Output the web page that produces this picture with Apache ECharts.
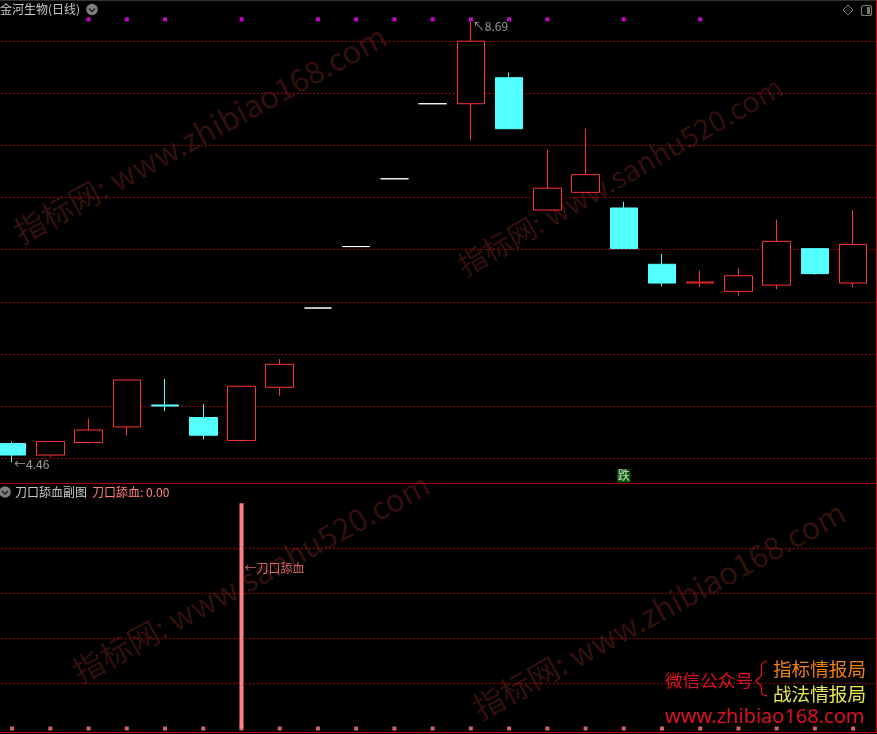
<!DOCTYPE html>
<html><head><meta charset="utf-8">
<style>html,body{margin:0;padding:0;background:#000;overflow:hidden}#c{width:877px;height:734px}</style>
<script src="https://cdn.jsdelivr.net/npm/echarts@6/dist/echarts.min.js"></script>
</head><body><div id="c"></div>
<script>
const categories = ['D01','D02','D03','D04','D05','D06','D07','D08','D09','D10','D11','D12','D13','D14','D15','D16','D17','D18','D19','D20','D21','D22','D23',''];
const openPrice  = [4.64,4.53,4.65,4.80,5.01,4.89,4.67,5.18,5.94,6.53,7.18,7.90,7.90,8.15,6.88,7.05,6.90,6.36,6.18,6.10,6.16,6.51,6.18];
const closePrice = [4.53,4.66,4.77,5.25,5.00,4.72,5.19,5.40,5.94,6.53,7.18,7.90,8.50,7.66,7.09,7.22,6.51,6.18,6.19,6.25,6.58,6.27,6.55];
const lowPrice   = [4.46,4.51,4.64,4.72,4.95,4.68,4.66,5.10,5.94,6.53,7.18,7.90,7.55,7.66,6.88,7.05,6.51,6.15,6.14,6.06,6.12,6.26,6.14];
const highPrice  = [4.66,4.66,4.88,5.25,5.26,5.02,5.19,5.45,5.94,6.53,7.18,7.90,8.69,8.20,7.46,7.66,6.96,6.46,6.30,6.32,6.79,6.51,6.88];
const signalIndex = [2,3,4,6,8,9,10,11,12,13,14,16,18];
const signalLevel = 8.71;
const fallIndex = 16, fallLevel = 4.33;
const subValues = [0,0,0,0,0,0,100,0,0,0,0,0,0,0,0,0,0,0,0,0,0,0,0];
const subLabelValue = 71;
const stockTitle = '金河生物(日线)';
const subTitle = '刀口舔血副图';
const subLegend = '刀口舔血: 0.00';
const subSignalName = '刀口舔血';
const watermarks = [
  ['指标网: www.zhibiao168.com', 200, 134, 0.50, 31],
  ['指标网: www.sanhu520.com', 620, 176, 0.52, 28.5],
  ['指标网: www.sanhu520.com', 251, 578, 0.50, 31],
  ['指标网: www.zhibiao168.com', 659, 610, 0.50, 31]
];

const RED = '#ff3333', CYAN = '#54ffff', PINK = '#ff8080', GRIDC = '#cc0000', GREY = '#c8c8c8';
const candles = openPrice.map((_, i) => [openPrice[i], closePrice[i], lowPrice[i], highPrice[i]]);
const iLow = lowPrice.indexOf(Math.min(...lowPrice));
const iHigh = highPrice.indexOf(Math.max(...highPrice));
const dottedSplit = {show:true, showMinLine:false, showMaxLine:false, lineStyle:{color: GRIDC, width: 1, type: [1.5, 2.5]}};
const chevron = (cx, cy) => ([
  {type:'circle', shape:{cx, cy, r:5.8}, style:{fill:'#7f7f7f'}, z:6},
  {type:'polyline', shape:{points:[[cx-3,cy-1],[cx,cy+2],[cx+3,cy-1]]}, style:{stroke:'#1c1c1c', lineWidth:1.4, fill:null}, z:7}
]);
const txt = (text, x, y, fontSize, fill, extra) => ({
  type:'text', x, y, z:6,
  style:Object.assign({text, fontSize, fill, fontFamily:'"Noto Sans CJK SC"', textVerticalAlign:'middle', textAlign:'left'}, extra||{})
});
const hline = (x1,y,x2,stroke) => ({type:'line', shape:{x1,y1:y,x2,y2:y}, style:{stroke, lineWidth:1}, z:6});

const graphics = [
  ...watermarks.map(w => ({type:'text', x:w[1], y:w[2], rotation:w[3], z:0, silent:true,
    style:{text:w[0], fontSize:w[4], fill:'#34100c', fontFamily:'"Noto Sans CJK SC"', textAlign:'center', textVerticalAlign:'middle'}})),
  hline(0,0.5,877,'#333333'),
  hline(0,483.5,877,'#b00000'),
  hline(0,732.5,877,'#d00000'),
  {type:'line', shape:{x1:876.5,y1:0,x2:876.5,y2:733}, style:{stroke:'#d00000',lineWidth:1}, z:6},
  txt(stockTitle, 0, 9.5, 12, GREY),
  ...chevron(92, 9.5),
  ...chevron(5, 492),
  txt(subTitle, 15, 492, 12, GREY),
  txt(subLegend, 92, 492, 12, PINK),
  {type:'polygon', shape:{points:[[848,5],[853,10],[848,15],[843,10]]}, style:{stroke:'#7a7a7a',fill:null,lineWidth:1}, z:6},
  {type:'rect', shape:{x:861.5,y:5.5,width:10,height:10,r:2}, style:{stroke:'#7a7a7a',fill:null,lineWidth:1.2}, z:6},
  {type:'rect', shape:{x:867,y:7,width:3,height:7}, style:{fill:'#7a7a7a'}, z:6},
  txt('微信公众号', 665, 680, 17.6, '#e01020'),
  {type:'polyline', shape:{points:[[767,661],[762,664],[761,676],[756,681],[761,686],[762,694],[767,696]], smooth:0.3}, style:{stroke:'#e01020',fill:null,lineWidth:1.3}, z:6},
  txt('指标情报局', 773, 669, 18.6, '#f08010'),
  txt('战法情报局', 773, 694, 18.6, '#e8e850'),
  txt('www.zhibiao168.com', 665, 717, 20, '#e01020', {fontFamily:'"Noto Sans"'})
];

const option = {
  backgroundColor:'#000', animation:false, tooltip:{show:false},
  grid:[
    {left:-7, width:917.5, top:-10.92, height:521.2, outerBoundsMode:'none'},
    {left:-7, width:917.5, top:503.3, height:225.2, outerBoundsMode:'none'}
  ],
  xAxis:[
    {type:'category', gridIndex:0, data:categories, show:false},
    {type:'category', gridIndex:1, data:categories, show:false}
  ],
  yAxis:[
    {type:'value', gridIndex:0, min:4, max:9, interval:0.5, axisLine:{show:false}, axisTick:{show:false}, axisLabel:{show:false}, splitLine:dottedSplit},
    {type:'value', gridIndex:1, min:0, max:100, interval:20, axisLine:{show:false}, axisTick:{show:false}, axisLabel:{show:false}, splitLine:dottedSplit}
  ],
  graphic:{elements:graphics},
  series:[
    {type:'candlestick', name:'K', xAxisIndex:0, yAxisIndex:0, data:candles, barWidth:28, z:2,
     itemStyle:{color:'#000', color0:CYAN, borderColor:RED, borderColor0:CYAN, borderColorDoji:'#ffffff', borderWidth:1}},
    {type:'scatter', name:'signal', xAxisIndex:0, yAxisIndex:0, symbol:'rect', symbolSize:4, z:3,
     itemStyle:{color:'#ff00ff'}, data:signalIndex.map(i => [i, signalLevel])},
    {type:'scatter', name:'extremes', xAxisIndex:0, yAxisIndex:0, symbolSize:0, z:4,
     data:[
       {value:[iLow, lowPrice[iLow]], label:{formatter:'←'+lowPrice[iLow].toFixed(2), position:'right', offset:[-3,2]}},
       {value:[iHigh, highPrice[iHigh]], label:{formatter:'↖'+highPrice[iHigh].toFixed(2), position:'right', offset:[-3,5]}}
     ],
     label:{show:true, color:'#c0c0c0', fontSize:12, fontFamily:'"Noto Sans CJK SC"'}},
    {type:'scatter', name:'fall', xAxisIndex:0, yAxisIndex:0, symbolSize:0, z:4,
     data:[[fallIndex, fallLevel]],
     label:{show:true, position:'inside', formatter:'跌', color:'#fff', fontSize:12, backgroundColor:'#007000', padding:[0,0.5], lineHeight:13, fontFamily:'"Noto Sans CJK SC"'}},
    {type:'bar', name:'刀口舔血', xAxisIndex:1, yAxisIndex:1, barWidth:4, z:3,
     itemStyle:{color:PINK},
     data:subValues.map(v => v>0 ? v : null)},
    {type:'scatter', name:'zero', xAxisIndex:1, yAxisIndex:1, symbol:'rect', symbolSize:4, z:3,
     itemStyle:{color:PINK}, data:subValues.map((v,i) => [i,0])},
    {type:'scatter', name:'subLabel', xAxisIndex:1, yAxisIndex:1, symbolSize:0, z:4,
     data:[[subValues.indexOf(100), subLabelValue]],
     label:{show:true, position:'right', offset:[-2,0], formatter:'←'+subSignalName, color:PINK, fontSize:12, fontFamily:'"Noto Sans CJK SC"'}}
  ]
};
const chart = echarts.init(document.getElementById('c'), null, {renderer:'canvas', width:877, height:734});
chart.setOption(option);
</script></body></html>
